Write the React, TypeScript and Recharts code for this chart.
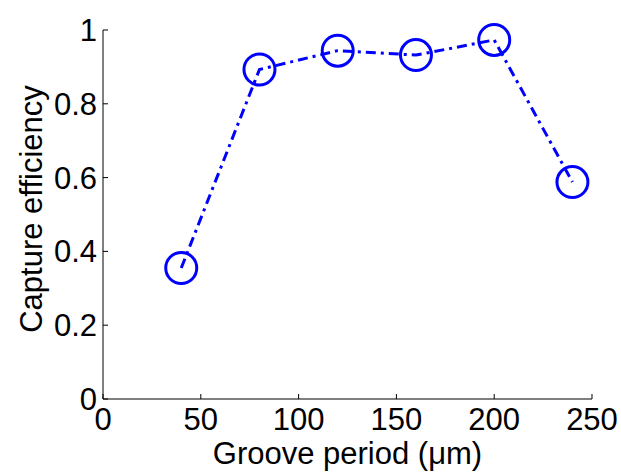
import { Label, Line, LineChart, XAxis, YAxis } from "recharts";

const periods = [40, 80, 120, 160, 200, 240];
const efficiency = [0.355, 0.893, 0.944, 0.932, 0.973, 0.588];
const xTicks = [0, 50, 100, 150, 200, 250];
const yTicks = [0, 0.2, 0.4, 0.6, 0.8, 1];

const data = periods.map((p, i) => ({ period: p, eff: efficiency[i] }));

const FONT = '"Liberation Sans", Arial, Helvetica, sans-serif';
const BLUE = "#0000ff";

function XTick(props: any) {
  const { x, y, payload } = props;
  return (
    <g>
      <line x1={x} y1={y} x2={x} y2={y - 5} stroke="#000" strokeWidth={1} />
      <text x={x} y={y + 31} textAnchor="middle" fontSize={31} fontFamily={FONT} fill="#000">
        {payload.value}
      </text>
    </g>
  );
}

function YTick(props: any) {
  const { x, y, payload } = props;
  return (
    <g>
      <line x1={x} y1={y} x2={x + 5} y2={y} stroke="#000" strokeWidth={1} />
      <text x={x - 6} y={y + 11} textAnchor="end" fontSize={31} fontFamily={FONT} fill="#000">
        {String(payload.value)}
      </text>
    </g>
  );
}

function Ring(props: any) {
  const { cx, cy } = props;
  return <circle cx={cx} cy={cy} r={15.5} fill="none" stroke={BLUE} strokeWidth={3} />;
}

export default function App() {
  return (
    <div style={{ position: "absolute", left: 0, top: 0, background: "#fff" }}>
      <LineChart
        width={621}
        height={473}
        data={data}
        margin={{ top: 30, right: 29, bottom: 0, left: 0 }}
      >
        <XAxis
          type="number"
          dataKey="period"
          domain={[0, 250]}
          ticks={xTicks}
          tickSize={0}
          tickMargin={0}
          tickLine={false}
          tick={<XTick />}
          height={74}
          axisLine={{ stroke: "#000", strokeWidth: 1 }}
          interval={0}
        >
          <Label
            value="Groove period (μm)"
            position="insideBottom"
            offset={9}
            style={{ fontSize: 31, fontFamily: FONT, fill: "#000" }}
          />
        </XAxis>
        <YAxis
          type="number"
          domain={[0, 1]}
          ticks={yTicks}
          width={103}
          tickSize={0}
          tickMargin={0}
          tickLine={false}
          tick={<YTick />}
          axisLine={{ stroke: "#000", strokeWidth: 1 }}
          interval={0}
        >
          <Label
            content={() => (
              <text
                transform="translate(42,209) rotate(-90)"
                textAnchor="middle"
                fontSize={31}
                fontFamily={FONT}
                fill="#000"
              >
                Capture efficiency
              </text>
            )}
          />
        </YAxis>
        <Line
          type="linear"
          dataKey="eff"
          stroke={BLUE}
          strokeWidth={3}
          strokeDasharray="10 5 3 5"
          dot={<Ring />}
          activeDot={false}
          isAnimationActive={false}
        />
      </LineChart>
    </div>
  );
}
